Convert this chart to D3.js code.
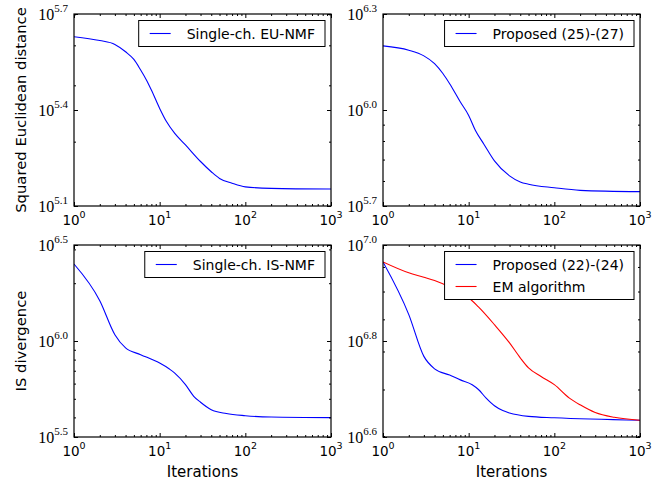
<!DOCTYPE html>
<html><head><meta charset="utf-8">
<script src="https://cdn.jsdelivr.net/npm/d3@7"></script>
<style>body{margin:0;background:#fff}</style>
</head><body><svg id="c" width="670" height="483"></svg>
<script>
// ---- data ----
const itEU   = [1,2,3,4,5,6,7,8,10,12,15,20,30,40,50,70,100,200,1000];
const euNMF  = [425600,414000,402700,381900,361400,335000,311900,290100,254100,231200,212300,195400,173400,161100,153500,148300,144500,142900,142200];

const itP25  = [1,2,3,4,5,6,8,10,12,15,20,30,40,50,100,200,1000];
const prop25 = [1586000,1538000,1476000,1396000,1300000,1208000,1059000,961600,863000,783400,693400,622300,595700,586100,571500,561000,555900];

const itIS   = [1,2,3,4,6,10,13,15,20,25,30,40,60,100,200,1000];
const isNMF  = [2518000,1622000,1079000,920400,849200,767400,714500,680800,592900,515200,479700,438500,418800,408300,401800,399000];

const itP22  = [1,2,3,4,6,8,11,13,16,20,25,30,50,100,1000];
const prop22 = [9218000,7161000,5861000,5521000,5358000,5236000,5117000,5000000,4797000,4624000,4519000,4467000,4395000,4365000,4315000];

const itEM   = [1,2,3,4,6,8,10,13,20,30,40,50,70,100,150,200,300,500,1000];
const emAlg  = [9218000,8750000,8570000,8433000,8175000,7943000,7762000,7430000,6823000,6252000,5821000,5546000,5321000,5117000,4797000,4645000,4477000,4375000,4315000];

const xTickExp = ["0","1","2","3"];
const yExp1 = ["5.1","5.4","5.7"];
const yExp2 = ["5.7","6.0","6.3"];
const yExp3 = ["5.5","6.0","6.5"];
const yExp4 = ["6.6","6.8","7.0"];

const legend1 = ["Single-ch. EU-NMF"];
const legend2 = ["Proposed (25)-(27)"];
const legend3 = ["Single-ch. IS-NMF"];
const legend4 = ["Proposed (22)-(24)","EM algorithm"];

const yLabelTop = "Squared Euclidean distance";
const yLabelBot = "IS divergence";
const xLabel = "Iterations";

// ---- drawing ----
const svg = d3.select("#c");
const W = 257, H = 192;
const panels = [
  {x:74,  y:14,  exps:yExp1, series:[{x:itEU,y:euNMF,c:"#0000ff"}], legend:legend1, ylab:yLabelTop, xlab:false},
  {x:383, y:14,  exps:yExp2, series:[{x:itP25,y:prop25,c:"#0000ff"}], legend:legend2, ylab:null, xlab:false},
  {x:74,  y:245, exps:yExp3, series:[{x:itIS,y:isNMF,c:"#0000ff"}], legend:legend3, ylab:yLabelBot, xlab:true},
  {x:383, y:245, exps:yExp4, series:[{x:itP22,y:prop22,c:"#0000ff"},{x:itEM,y:emAlg,c:"#ff0000"}], legend:legend4, ylab:null, xlab:true}
];

function minorTicks(lo, hi){
  const out=[];
  for(let e=Math.floor(Math.log10(lo)); e<=Math.ceil(Math.log10(hi)); e++){
    for(let m=1;m<10;m++){
      const v=m*Math.pow(10,e);
      if(v>=lo*0.9999 && v<=hi*1.0001) out.push(v);
    }
  }
  return out;
}

panels.forEach((p,i)=>{
  const g = svg.append("g").attr("transform",`translate(${p.x},${p.y})`);
  const ymaj = p.exps.map(e=>Math.pow(10,+e));
  const x = d3.scaleLog().domain([1,1000]).range([0,W]);
  const y = d3.scaleLog().domain([ymaj[0], ymaj[ymaj.length-1]]).range([H,0]);

  const xMaj = xTickExp.map(e=>Math.pow(10,+e));
  const xMin = minorTicks(1,1000).filter(v=>!xMaj.includes(v));
  const yMin = minorTicks(y.domain()[0], y.domain()[1]).filter(v=>ymaj.every(m=>Math.abs(Math.log10(v)-Math.log10(m))>1e-6));

  const clipId = "clip"+i;
  g.append("clipPath").attr("id",clipId).append("rect").attr("width",W).attr("height",H);

  // lines
  const line = d3.line().x(d=>x(d[0])).y(d=>y(d[1])).curve(d3.curveMonotoneX);
  p.series.forEach(s=>{
    g.append("path").attr("clip-path",`url(#${clipId})`)
      .datum(s.x.map((v,k)=>[v,s.y[k]]))
      .attr("d",line).attr("fill","none").attr("stroke",s.c).attr("stroke-width",1.1);
  });

  // ticks (inward, all sides)
  const mk = (axis, tr, vals, size) => {
    const a = g.append("g").attr("transform",tr).call(axis.tickValues(vals).tickSize(size).tickSizeOuter(0).tickFormat(""));
    a.select(".domain").remove();
    a.selectAll("line").attr("stroke","#000").attr("stroke-width",1);
  };
  mk(d3.axisBottom(x), `translate(0,${H})`, xMaj, -4);
  mk(d3.axisBottom(x), `translate(0,${H})`, xMin, -2);
  mk(d3.axisTop(x), `translate(0,0)`, xMaj, -4);
  mk(d3.axisTop(x), `translate(0,0)`, xMin, -2);
  mk(d3.axisLeft(y), `translate(0,0)`, ymaj, -4);
  mk(d3.axisLeft(y), `translate(0,0)`, yMin, -2);
  mk(d3.axisRight(y), `translate(${W},0)`, ymaj, -4);
  mk(d3.axisRight(y), `translate(${W},0)`, yMin, -2);

  // frame
  g.append("rect").attr("width",W).attr("height",H).attr("fill","none").attr("stroke","#000").attr("stroke-width",1.2);

  // y tick labels (serif, math style)
  ymaj.forEach((v,k)=>{
    const t = g.append("text").attr("x",-6).attr("y",y(v)+5.5)
      .attr("text-anchor","end").attr("font-family","'Liberation Serif','DejaVu Serif',serif").attr("font-size",16).attr("fill","#000");
    t.append("tspan").text("10");
    t.append("tspan").attr("dy",-8).attr("font-size",11).text(p.exps[k]);
  });

  // x tick labels
  xMaj.forEach((v,k)=>{
    const t = g.append("text").attr("x",x(v)).attr("y",H+19)
      .attr("text-anchor","middle").attr("font-family","'DejaVu Sans',sans-serif").attr("font-size",13.5).attr("fill","#000");
    t.append("tspan").text("10");
    t.append("tspan").attr("dy",-7).attr("font-size",9.5).text(xTickExp[k]);
  });

  // axis labels
  if(p.ylab){
    g.append("text").attr("transform",`translate(${-48},${H/2}) rotate(-90)`)
      .attr("text-anchor","middle").attr("font-family","'DejaVu Sans',sans-serif").attr("font-size",14.8).attr("fill","#000").text(p.ylab);
  }
  if(p.xlab){
    g.append("text").attr("x",W/2).attr("y",H+40)
      .attr("text-anchor","middle").attr("font-family","'DejaVu Sans',sans-serif").attr("font-size",15).attr("fill","#000").text(xLabel);
  }

  // legend
  const lg = g.append("g");
  const box = lg.append("rect").attr("fill","#fff").attr("stroke","#000").attr("stroke-width",1);
  let maxW = 0;
  const rowH = 22;
  const texts = p.legend.map((name,k)=>{
    const t = lg.append("text").attr("font-family","'DejaVu Sans',sans-serif").attr("font-size",14).attr("fill","#000").text(name);
    maxW = Math.max(maxW, t.node().getComputedTextLength());
    return t;
  });
  const bw = maxW + 58, bh = 26 + rowH*(p.legend.length-1);
  const bx = W - 6 - bw, by = 6.5;
  box.attr("x",bx).attr("y",by).attr("width",bw).attr("height",bh);
  texts.forEach((t,k)=>{
    const cy = by + 13 + rowH*k;
    t.attr("x",bx+48).attr("y",cy+5);
    lg.append("line").attr("x1",bx+11).attr("x2",bx+32).attr("y1",cy).attr("y2",cy)
      .attr("stroke",p.series[k].c).attr("stroke-width",1.1);
  });
});
</script></body></html>
